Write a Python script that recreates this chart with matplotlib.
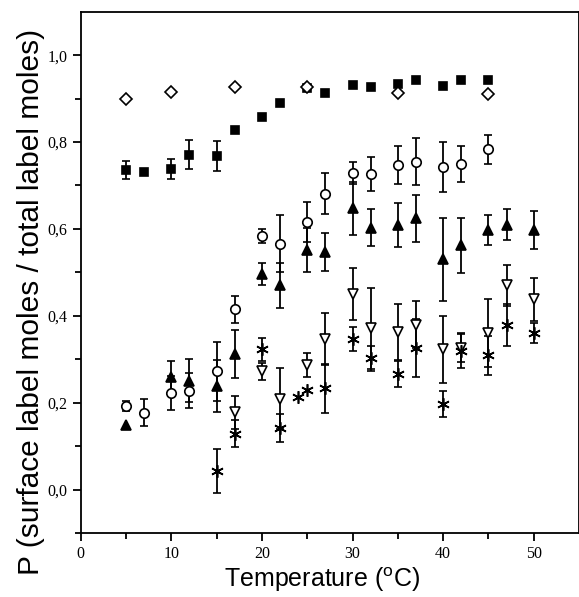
import numpy as np
import matplotlib
matplotlib.use("Agg")
import matplotlib.pyplot as plt

# =========================================
# DATA
# =========================================
nan = np.nan

# filled squares
sq_T = [5, 7, 10, 12, 15, 17, 20, 22, 25, 27, 30, 32, 35, 37, 40, 42, 45]
sq_P = [0.736, 0.731, 0.737, 0.771, 0.768, 0.827, 0.858, 0.889, 0.925, 0.913,
        0.931, 0.927, 0.933, 0.942, 0.930, 0.942, 0.943]
sq_E = [0.021, nan, 0.023, 0.033, 0.035, nan, nan, nan, nan, nan,
        nan, nan, nan, nan, nan, nan, nan]

# open diamonds
di_T = [5, 10, 17, 25, 35, 45]
di_P = [0.900, 0.915, 0.926, 0.927, 0.912, 0.910]

# open circles
ci_T = [5, 7, 10, 12, 15, 17, 20, 22, 25, 27, 30, 32, 35, 37, 40, 42, 45]
ci_P = [0.193, 0.177, 0.222, 0.228, 0.272, 0.415, 0.583, 0.566, 0.616, 0.681,
        0.729, 0.726, 0.748, 0.755, 0.743, 0.750, 0.783]
ci_E = [0.012, 0.031, 0.040, 0.041, 0.067, 0.031, 0.016, 0.065, 0.047, 0.047,
        0.026, 0.039, 0.044, 0.054, 0.058, 0.042, 0.034]

# filled up-triangles
tu_T = [5, 10, 12, 15, 17, 20, 22, 25, 27, 30, 32, 35, 37, 40, 42, 45, 47, 50]
tu_P = [0.149, 0.259, 0.251, 0.239, 0.312, 0.497, 0.470, 0.551, 0.547, 0.647,
        0.603, 0.609, 0.624, 0.530, 0.562, 0.597, 0.610, 0.598]
tu_E = [nan, 0.037, 0.050, 0.060, 0.055, 0.025, 0.052, 0.050, 0.043, 0.060,
        0.043, 0.050, 0.055, 0.095, 0.064, 0.035, 0.035, 0.044]

# open down-triangles
td_T = [17, 20, 22, 25, 27, 30, 32, 35, 37, 40, 42, 45, 47, 50]
td_P = [0.178, 0.272, 0.209, 0.287, 0.347, 0.451, 0.371, 0.363, 0.379, 0.323,
        0.327, 0.360, 0.470, 0.438]
td_E = [0.038, 0.020, 0.070, 0.028, 0.060, 0.060, 0.093, 0.064, 0.054, 0.077,
        0.033, 0.078, 0.048, 0.050]

# asterisks
st_T = [15, 17, 20, 22, 24, 25, 27, 30, 32, 35, 37, 40, 42, 45, 47, 50]
st_P = [0.042, 0.128, 0.323, 0.142, 0.214, 0.230, 0.233, 0.347, 0.302, 0.266,
        0.325, 0.197, 0.319, 0.309, 0.379, 0.360]
st_E = [0.051, 0.031, 0.027, 0.033, nan, nan, 0.057, 0.028, 0.029, 0.030,
        0.067, 0.030, 0.040, 0.045, 0.049, 0.023]

# =========================================
# STYLE
# =========================================
plt.rcParams["mathtext.fontset"] = "custom"
plt.rcParams["mathtext.rm"] = "Liberation Sans"
plt.rcParams["mathtext.it"] = "Liberation Sans"

fig = plt.figure(figsize=(5.79, 5.97), dpi=100)
ax = fig.add_axes([0.1394, 0.1072, 0.8606, 0.8732])

eb = dict(ecolor="black", elinewidth=1.3, capsize=3.2, capthick=1.3,
          markeredgecolor="black", markeredgewidth=1.2, linestyle="none")

ax.errorbar(sq_T, sq_P, yerr=np.array(sq_E), fmt="s", ms=6.3,
            markerfacecolor="black", zorder=3, **eb)
ax.errorbar(di_T, di_P, fmt="D", ms=5.8,
            markerfacecolor="white", zorder=4, **eb)
ax.errorbar(ci_T, ci_P, yerr=np.array(ci_E), fmt="o", ms=6.8,
            markerfacecolor="white", zorder=3, **eb)
ax.errorbar(tu_T, tu_P, yerr=np.array(tu_E), fmt="^", ms=7.5,
            markerfacecolor="black", zorder=3, **eb)
ax.errorbar(td_T, td_P, yerr=np.array(td_E), fmt="v", ms=7.5,
            markerfacecolor="white", zorder=3, **eb)
ax.errorbar(st_T, st_P, yerr=np.array(st_E), fmt="", marker=(6, 2, 0),
            ms=9, markerfacecolor="black", zorder=3, **eb)

# =========================================
# AXES
# =========================================
ax.set_xlim(0, 55)
ax.set_ylim(-0.1, 1.1)
ax.set_xticks([0, 10, 20, 30, 40, 50])
ax.set_xticks(np.arange(5, 55, 10), minor=True)
ax.set_yticks([0.0, 0.2, 0.4, 0.6, 0.8, 1.0])
ax.set_yticks([-0.1, 0.1, 0.3, 0.5, 0.7, 0.9], minor=True)
ax.set_yticklabels(["0,0", "0,2", "0,4", "0,6", "0,8", "1,0"])

for s in ax.spines.values():
    s.set_linewidth(1.3)

ax.tick_params(which="both", direction="out", width=1.3, top=False,
               labelsize=11.5)
ax.tick_params(which="major", length=6)
ax.tick_params(which="minor", length=4)
for lab in ax.get_xticklabels() + ax.get_yticklabels():
    lab.set_family("Liberation Serif")

ax.set_xlabel(r"Temperature ($^{\mathrm{o}}$C)", fontsize=18,
              family="Liberation Sans", va="top")
ax.xaxis.set_label_coords(0.485, -0.062)
ax.set_ylabel("P (surface label moles / total label moles)", fontsize=21.5,
              family="Liberation Sans")
ax.yaxis.set_label_coords(-0.072, 0.443)

fig.savefig("out.png", dpi=100)
